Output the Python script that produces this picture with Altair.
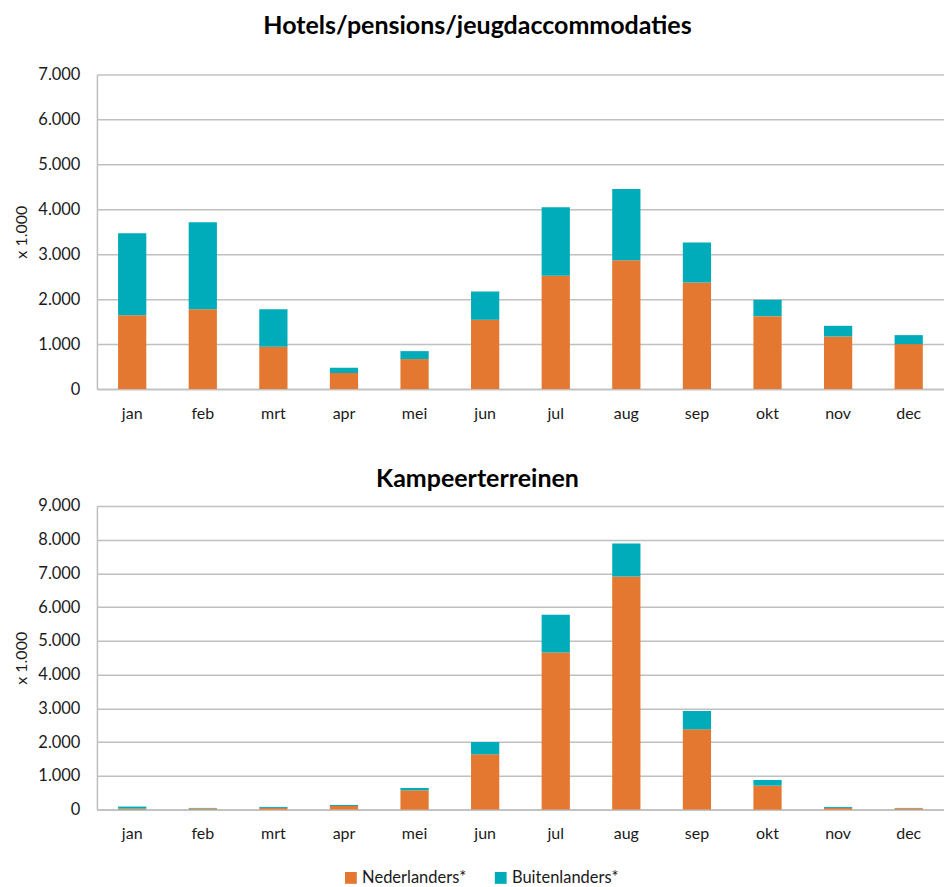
import altair as alt
import pandas as pd

months = ["jan", "feb", "mrt", "apr", "mei", "jun", "jul", "aug", "sep", "okt", "nov", "dec"]
series = ["Nederlanders*", "Buitenlanders*"]

hotels_nl = [1644, 1778, 941, 356, 667, 1541, 2519, 2867, 2370, 1622, 1170, 1000]
hotels_bu = [1823, 1933, 837, 118, 177, 629, 1525, 1585, 889, 363, 237, 200]

camp_nl = [30, 35, 50, 109, 573, 1639, 4659, 6910, 2379, 711, 50, 40]
camp_bu = [60, 15, 30, 29, 69, 365, 1116, 977, 543, 168, 29, 10]

titles = ["Hotels/pensions/jeugdaccommodaties", "Kampeerterreinen"]
y_max = [7000, 9000]
y_ticks = [list(range(0, 7001, 1000)), list(range(0, 9001, 1000))]

colors = ["#E47830", "#00ACB9"]
FONT = "Lato"
TEXT = "#1a1a1a"


def make_df(nl, bu):
    rows = []
    for i, m in enumerate(months):
        rows.append({"maand": m, "groep": series[0], "waarde": nl[i], "volgorde": 0})
        rows.append({"maand": m, "groep": series[1], "waarde": bu[i], "volgorde": 1})
    return pd.DataFrame(rows)


def panel(df, title, ymax, ticks, height, title_offset):
    return (
        alt.Chart(df, title=alt.TitleParams(title, fontSize=25, fontWeight="bold",
                                              font=FONT, color="#000000", offset=title_offset,
                                              dx=-43))
        .mark_bar()
        .encode(
            x=alt.X("maand:N", sort=months, title=None,
                    scale=alt.Scale(paddingInner=0.6, paddingOuter=0.3),
                    axis=alt.Axis(labelAngle=0, ticks=False, labelPadding=16,
                                  labelFontSize=16, domainColor="#bfbfbf", domainWidth=1.5)),
            y=alt.Y("waarde:Q", stack="zero", title="x 1.000",
                    scale=alt.Scale(domain=[0, ymax], nice=False),
                    axis=alt.Axis(values=ticks, ticks=False, labelPadding=17,
                                  labelFontSize=16.5, titleFontSize=16, titleFontWeight="normal",
                                  titlePadding=8,
                                  labelExpr="replace(format(datum.value, ','), ',', '.')",
                                  gridColor="#c0c0c0", gridWidth=1.5,
                                  domainColor="#bfbfbf", domainWidth=1.5)),
            color=alt.Color("groep:N", scale=alt.Scale(domain=series, range=colors),
                            legend=alt.Legend(title=None, orient="none", direction="horizontal",
                                              legendX=246, legendY=796,
                                              symbolType="square", symbolSize=140,
                                              symbolStrokeWidth=0, labelFontSize=16.5,
                                              columnPadding=26, labelOffset=3)),
            order=alt.Order("volgorde:Q", sort="ascending"),
        )
        .properties(width=848, height=height)
    )


top = panel(make_df(hotels_nl, hotels_bu), titles[0], y_max[0], y_ticks[0], 315, 27)
bottom = panel(make_df(camp_nl, camp_bu), titles[1], y_max[1], y_ticks[1], 304, 6)

chart = (
    alt.vconcat(top, bottom, spacing=46)
    .properties(padding={"left": 5, "right": 0, "top": 6, "bottom": 0})
    .configure(font=FONT)
    .configure_view(stroke=None)
    .configure_axis(labelColor=TEXT, titleColor=TEXT, labelFont=FONT, titleFont=FONT)
    .configure_legend(labelColor=TEXT, labelFont=FONT)
)

chart.save("out.html", embed_options={"renderer": "svg", "actions": False})
